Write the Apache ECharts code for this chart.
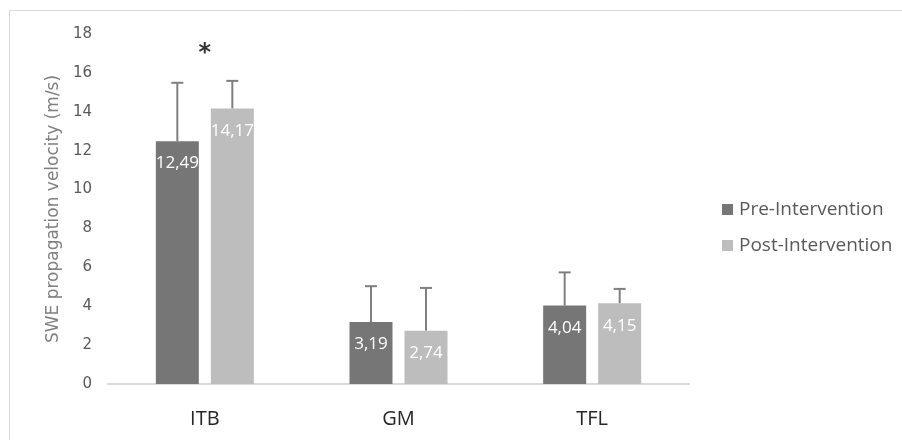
<!DOCTYPE html>
<html><head><meta charset="utf-8">
<script src="https://cdn.jsdelivr.net/npm/echarts@6/dist/echarts.min.js"></script>
<style>html,body{margin:0;padding:0;background:#fff}#c{width:902px;height:440px}</style>
</head><body><div id="c"></div>
<script>
var categories = ['ITB', 'GM', 'TFL'];
var preValues = [12.49, 3.19, 4.04];
var postValues = [14.17, 2.74, 4.15];
var preSD = [3.0, 1.84, 1.7];
var postSD = [1.42, 2.2, 0.74];
var significance = ['*', '', ''];
var significanceY = [17.0, null, null];
var yTicks = [0, 2, 4, 6, 8, 10, 12, 14, 16, 18];

var chart = echarts.init(document.getElementById('c'));
var BAR_W = 43;
var GAP = 12;

function errorSeries(name, values, sds, seriesIndex) {
  var data = values.map(function (v, i) { return [i, v, v + sds[i]]; });
  return {
    type: 'custom',
    name: name + ' SD',
    data: data,
    z: 1,
    silent: true,
    encode: { x: 0, y: [1, 2] },
    renderItem: function (params, api) {
      var idx = api.value(0);
      var base = api.coord([idx, api.value(1)]);
      var top = api.coord([idx, api.value(2)]);
      var off = (seriesIndex === 0 ? -1 : 1) * (BAR_W + GAP) / 2;
      var x = base[0] + off;
      var style = { stroke: '#7f7f7f', lineWidth: 2 };
      return {
        type: 'group',
        children: [
          { type: 'line', shape: { x1: x, y1: base[1], x2: x, y2: top[1] }, style: style },
          { type: 'line', shape: { x1: x - 6, y1: top[1], x2: x + 6, y2: top[1] }, style: style }
        ]
      };
    }
  };
}

var labelStyle = {
  show: true,
  position: 'insideTop',
  distance: 14,
  color: '#ffffff',
  fontSize: 17,
  fontFamily: 'Open Sans',
  formatter: function (p) { return p.value.toFixed(2).replace('.', ','); }
};

chart.setOption({
  animation: false,
  backgroundColor: '#ffffff',
  graphic: [{
    type: 'rect',
    shape: { x: 9.5, y: 10.5, width: 900, height: 440 },
    style: { fill: 'none', stroke: '#d9d9d9', lineWidth: 1 },
    silent: true
  }],
  grid: { left: 108, right: 213, top: 34, bottom: 56 },
  legend: {
    orient: 'vertical',
    left: 717,
    top: 195,
    itemWidth: 11,
    itemHeight: 11,
    itemGap: 17,
    icon: 'rect',
    textStyle: { color: '#595959', fontSize: 19, fontFamily: 'Open Sans', padding: [0, 0, 0, 1] },
    data: ['Pre-Intervention', 'Post-Intervention']
  },
  xAxis: {
    type: 'category',
    data: categories,
    axisLine: { lineStyle: { color: '#d9d9d9', width: 2 } },
    axisTick: { show: false },
    axisLabel: { color: '#262626', fontSize: 20, fontFamily: 'Open Sans', margin: 25 }
  },
  yAxis: {
    type: 'value',
    min: yTicks[0],
    max: yTicks[yTicks.length - 1],
    interval: 2,
    name: 'SWE propagation velocity (m/s)',
    nameLocation: 'middle',
    nameGap: 41,
    nameTextStyle: { color: '#7f7f7f', fontSize: 17, fontFamily: 'DejaVu Sans' },
    axisLine: { show: false },
    axisTick: { show: false },
    splitLine: { show: false },
    axisLabel: { color: '#595959', fontSize: 15, fontFamily: 'DejaVu Sans', margin: 16 }
  },
  series: [
    {
      name: 'Pre-Intervention', type: 'bar', data: preValues,
      barWidth: BAR_W, barGap: (GAP / BAR_W * 100) + '%',
      itemStyle: { color: '#767676' }, label: labelStyle, z: 2
    },
    {
      name: 'Post-Intervention', type: 'bar', data: postValues,
      barWidth: BAR_W,
      itemStyle: { color: '#bdbdbd' }, label: labelStyle, z: 2
    },
    errorSeries('Pre-Intervention', preValues, preSD, 0),
    errorSeries('Post-Intervention', postValues, postSD, 1),
    {
      type: 'scatter', name: 'sig', data: significanceY, symbolSize: 0, silent: true,
      label: {
        show: true, position: 'inside', color: '#000', fontSize: 24, fontWeight: 'bold',
        fontFamily: 'DejaVu Sans',
        formatter: function (p) { return significance[p.dataIndex]; }
      }
    }
  ]
});
</script></body></html>
